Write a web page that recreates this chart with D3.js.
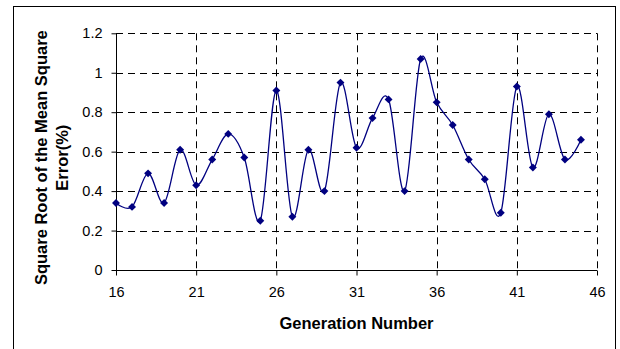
<!DOCTYPE html>
<html>
<head>
<meta charset="utf-8">
<script src="https://cdn.jsdelivr.net/npm/d3@7"></script>
<style>
  body { margin: 0; background: #fff; }
  text { font-family: "Liberation Sans", Arial, sans-serif; }
</style>
</head>
<body>
<svg id="chart" width="620" height="349"></svg>
<script>
// data
var generations = [16, 17, 18, 19, 20, 21, 22, 23, 24, 25, 26, 27, 28, 29, 30,
  31, 32, 33, 34, 35, 36, 37, 38, 39, 40, 41, 42, 43, 44, 45];
var rmsError = [0.34, 0.32, 0.49, 0.34, 0.61, 0.43, 0.56, 0.69, 0.57, 0.25, 0.91, 0.27, 0.61, 0.40, 0.95,
  0.62, 0.77, 0.865, 0.40, 1.07, 0.85, 0.735, 0.56, 0.46, 0.29, 0.93, 0.52, 0.79, 0.56, 0.66];
var xTicks = [16, 21, 26, 31, 36, 41, 46];
var yTicks = [0, 0.2, 0.4, 0.6, 0.8, 1, 1.2];
var yTickLabels = ["0", "0.2", "0.4", "0.6", "0.8", "1", "1.2"];
var xTitle = "Generation Number";
var yTitleLines = ["Square Root of the Mean Square", "Error(%)"];

var svg = d3.select('#chart');

// outer frame
svg.append('rect')
  .attr('x', 13.5).attr('y', 6.5)
  .attr('width', 602).attr('height', 350)
  .style('fill', '#fff').style('stroke', '#000').style('stroke-width', 1);

// plot area (not named top/left: window.top is taken)
var plotL = 116, plotR = 597, plotT = 33.3, plotB = 270;

var xScale = d3.scaleLinear().domain([16, 46]).range([plotL, plotR]);
var yScale = d3.scaleLinear().domain([0, 1.2]).range([plotB, plotT]);

// dashed grid
svg.append('g').selectAll('line')
  .data(yTicks.slice(1))
  .enter().append('line')
  .attr('x1', plotL).attr('x2', plotR)
  .attr('y1', d => Math.round(yScale(d)) + 0.5)
  .attr('y2', d => Math.round(yScale(d)) + 0.5)
  .style('stroke', '#000').style('stroke-dasharray', '7,5');

svg.append('g').selectAll('line')
  .data(xTicks.slice(1))
  .enter().append('line')
  .attr('y1', plotT).attr('y2', plotB)
  .attr('x1', d => Math.round(xScale(d)) + 0.5)
  .attr('x2', d => Math.round(xScale(d)) + 0.5)
  .style('stroke', '#000').style('stroke-dasharray', '7,5');

// axes
var yAxis = d3.axisLeft(yScale)
  .tickValues(yTicks)
  .tickSize(5).tickPadding(9)
  .tickFormat((d, i) => yTickLabels[i]);
var xAxis = d3.axisBottom(xScale)
  .tickValues(xTicks)
  .tickSize(5).tickPadding(11)
  .tickFormat(d3.format('d'));

var gy = svg.append('g')
  .attr('transform', 'translate(' + (plotL + 0.5) + ',0)')
  .call(yAxis);
var gx = svg.append('g')
  .attr('transform', 'translate(0,' + (plotB + 0.5) + ')')
  .call(xAxis);

[gx, gy].forEach(function (g) {
  g.attr('font-size', null).attr('font-family', null);
  g.select('.domain').style('stroke', '#000');
  g.selectAll('.tick line').style('stroke', '#000');
  g.selectAll('.tick text')
    .style('font-family', '"Liberation Sans", Arial, sans-serif')
    .style('font-size', '14.5px').style('fill', '#000');
});
gx.select('.domain').attr('d', 'M' + plotL + ',0H' + plotR);
gy.select('.domain').attr('d', 'M0,' + plotB + 'V' + plotT);

// smoothed line
var line = d3.line()
  .curve(d3.curveCardinal.tension(0))
  .x((d, i) => xScale(generations[i]))
  .y(d => yScale(d));

svg.append('path')
  .datum(rmsError)
  .attr('d', line)
  .style('fill', 'none')
  .style('stroke', '#000080')
  .style('stroke-width', 1.3);

// diamond markers
var diamond = d3.symbol().type(d3.symbolDiamond2).size(40);
svg.append('g').selectAll('path')
  .data(rmsError)
  .enter().append('path')
  .attr('d', diamond)
  .attr('transform', (d, i) => 'translate(' + xScale(generations[i]) + ',' + yScale(d) + ')')
  .style('fill', '#000080');

// titles
svg.append('text')
  .attr('x', (plotL + plotR) / 2).attr('y', 329)
  .attr('text-anchor', 'middle')
  .style('font-weight', 'bold').style('font-size', '16.5px')
  .text(xTitle);

var yt = svg.append('text')
  .attr('transform', 'translate(47,' + ((plotT + plotB) / 2 + 6) + ') rotate(-90)')
  .attr('text-anchor', 'middle')
  .style('font-weight', 'bold').style('font-size', '16.5px');
yt.selectAll('tspan')
  .data(yTitleLines)
  .enter().append('tspan')
  .attr('x', 0)
  .attr('dy', (d, i) => i === 0 ? 0 : 21)
  .text(d => d);
</script>
</body>
</html>
